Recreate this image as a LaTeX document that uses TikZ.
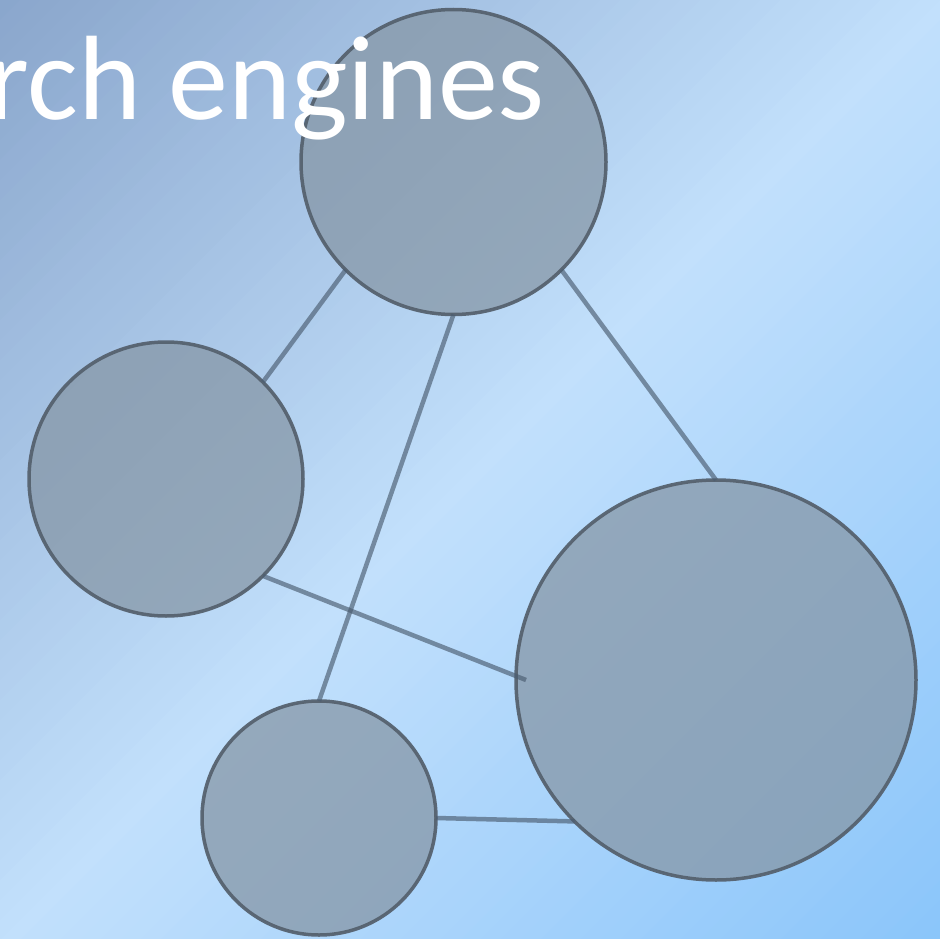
\documentclass[tikz,border=0pt]{standalone}
\usepackage{fontspec}
\setmainfont{Carlito}
\definecolor{bgTL}{HTML}{8AA6CC}
\definecolor{bgMid}{HTML}{C2E0FC}
\definecolor{bgBR}{HTML}{8AC5FA}
\definecolor{discfill}{HTML}{8697A7}
\definecolor{discline}{HTML}{56626F}
\definecolor{linkcol}{HTML}{4A5C70}
\tikzset{
  disc/.style={circle, draw=discline, line width=3.5pt, fill=discfill, fill opacity=0.75, draw opacity=0.95, inner sep=0pt, outer sep=0pt},
  link/.style={draw=linkcol, line width=4.5pt, draw opacity=0.65},
  titletext/.style={text=white, font=\fontsize{120}{140}\selectfont, inner sep=0pt}
}
\begin{document}
\begin{tikzpicture}[x=1pt,y=-1pt]
\useasboundingbox (0,0) rectangle (940,939);
\clip (0,0) rectangle (940,939);
% diagonal background gradient (top-left -> light middle -> bottom-right)
\foreach \i in {0,...,46}{
  \pgfmathsetmacro{\a}{\i*20}
  \pgfmathsetmacro{\b}{\a+21}
  \pgfmathtruncatemacro{\p}{min(100,(\a+10)/9.4)}
  \fill[bgMid!\p!bgTL] (\a+1000,-1000) -- (\b+1000,-1000) -- (\b-1000,1000) -- (\a-1000,1000) -- cycle;
}
\foreach \i in {47,...,94}{
  \pgfmathsetmacro{\a}{\i*20}
  \pgfmathsetmacro{\b}{\a+21}
  \pgfmathtruncatemacro{\p}{min(100,max(0,(\a+10-940)/9.4))}
  \fill[bgBR!\p!bgMid] (\a+1000,-1000) -- (\b+1000,-1000) -- (\b-1000,1000) -- (\a-1000,1000) -- cycle;
}
\node[disc, minimum size=305pt] (top) at (453.5,162) {};
\node[disc, minimum size=274pt] (left) at (166,479) {};
\node[disc, minimum size=400pt] (right) at (716,680) {};
\node[disc, minimum size=234pt] (bottom) at (319,818) {};
\draw[link] (top.225) -- (left.45);
\draw[link] (top.south) -- (bottom.north);
\draw[link] (top.-45) -- (right.north);
\draw[link] (left.-45) -- ([xshift=10pt]right.west);
\draw[link] (bottom.east) -- (right.225);
\node[titletext, anchor=base east] (title) at (545,120) {rch engines};
\end{tikzpicture}
\end{document}
